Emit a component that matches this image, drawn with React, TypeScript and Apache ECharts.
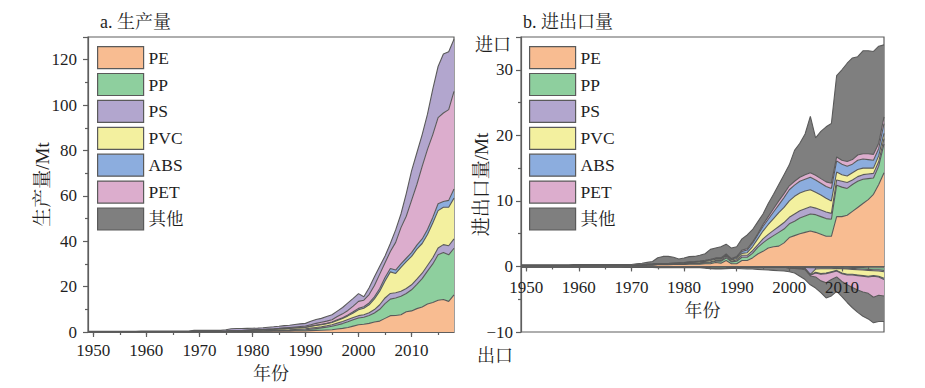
import React, { useEffect, useRef } from 'react';
import * as echarts from 'echarts';

// ---------- categories ----------
const YEARS = Array.from({ length: 70 }, (_, i) => String(1949 + i)); // 1949..2018
const NAMES = ['PE', 'PP', 'PS', 'PVC', 'ABS', 'PET', '其他'];
const COLORS = ['#f8bc91', '#8ecf9e', '#b2a6ce', '#f3f09f', '#8cadde', '#dcadcd', '#7f7f7f'];
const PROD_OTHER_FILL = '#b2a6ce';

// ---------- a. production (Mt) ----------
const P_PE = [
  0.1, 0.1, 0.1, 0.1, 0.1, 0.1, 0.1, 0.1, 0.1, 0.1,
  0.1, 0.1, 0.1, 0.1, 0.1, 0.1, 0.1, 0.1, 0.1, 0.1,
  0.15, 0.15, 0.15, 0.15, 0.15, 0.15, 0.15, 0.15, 0.15, 0.15,
  0.2, 0.25, 0.3, 0.3, 0.35, 0.4, 0.4, 0.4, 0.4, 0.5,
  0.5, 0.5, 0.6, 0.7, 0.8, 0.9, 1.0, 1.3, 1.6, 2.0,
  2.6, 3.2, 3.4, 3.8, 4.4, 4.8, 6.0, 7.2, 7.3, 7.6,
  8.9, 9.3, 10.3, 11.0, 12.3, 13.0, 14.0, 14.3, 13.5, 16.4,
];
const P_PP = [
  0, 0, 0, 0, 0, 0, 0, 0, 0, 0,
  0, 0, 0, 0, 0, 0, 0, 0, 0, 0,
  0, 0, 0, 0, 0, 0, 0, 0.03, 0.05, 0.05,
  0.07, 0.1, 0.1, 0.12, 0.15, 0.18, 0.2, 0.25, 0.3, 0.3,
  0.4, 0.5, 0.6, 0.8, 1.0, 1.2, 1.5, 1.8, 2.1, 2.5,
  2.8, 3.0, 3.1, 3.5, 4.0, 5.2, 6.5, 7.3, 7.7, 8.2,
  8.1, 9.3, 10.7, 12.5, 14.5, 17.0, 20.0, 20.7, 20.5, 20.5,
];
const P_PS = [
  0, 0, 0, 0, 0, 0, 0, 0, 0, 0,
  0, 0, 0, 0, 0, 0, 0, 0, 0, 0,
  0, 0, 0, 0, 0, 0, 0, 0.03, 0.04, 0.05,
  0.06, 0.07, 0.08, 0.1, 0.12, 0.13, 0.15, 0.2, 0.25, 0.3,
  0.35, 0.4, 0.5, 0.5, 0.5, 0.6, 0.7, 0.8, 0.9, 1.0,
  1.0, 1.0, 1.1, 1.2, 1.5, 2.0, 2.5, 2.5, 2.3, 2.2,
  2.2, 2.2, 2.3, 2.4, 2.5, 2.7, 3.0, 3.5, 4.0, 4.1,
];
const P_PVC = [
  0.05, 0.05, 0.05, 0.05, 0.05, 0.05, 0.05, 0.05, 0.05, 0.05,
  0.1, 0.1, 0.1, 0.1, 0.1, 0.1, 0.1, 0.1, 0.1, 0.1,
  0.2, 0.2, 0.2, 0.2, 0.2, 0.2, 0.25, 0.3, 0.3, 0.35,
  0.4, 0.4, 0.45, 0.45, 0.5, 0.5, 0.55, 0.6, 0.65, 0.65,
  0.6, 0.6, 0.8, 0.9, 0.9, 0.9, 1.0, 1.2, 1.4, 1.6,
  2.0, 2.6, 2.9, 3.5, 4.7, 6.0, 7.5, 9.5, 8.5, 10.5,
  11.8, 12.5, 13.2, 13.1, 13.7, 15.3, 16.5, 16.5, 17.0, 18.0,
];
const P_ABS = [
  0, 0, 0, 0, 0, 0, 0, 0, 0, 0,
  0, 0, 0, 0, 0, 0, 0, 0, 0, 0,
  0, 0, 0, 0, 0, 0, 0, 0, 0, 0,
  0, 0.02, 0.02, 0.02, 0.02, 0.02, 0.05, 0.05, 0.05, 0.05,
  0.1, 0.1, 0.1, 0.1, 0.2, 0.2, 0.2, 0.3, 0.3, 0.4,
  0.5, 0.6, 0.6, 0.8, 0.9, 1.2, 1.5, 1.5, 1.5, 1.5,
  1.5, 1.7, 1.8, 2.0, 2.2, 2.5, 3.0, 2.5, 3.0, 4.0,
];
const P_PET = [
  0, 0, 0, 0, 0, 0, 0, 0, 0, 0,
  0, 0, 0, 0, 0, 0, 0, 0, 0, 0,
  0, 0, 0, 0, 0, 0, 0, 0.02, 0.03, 0.05,
  0.07, 0.1, 0.12, 0.15, 0.18, 0.2, 0.25, 0.3, 0.35, 0.4,
  0.45, 0.5, 0.6, 0.8, 0.9, 1.0, 1.0, 1.4, 1.7, 2.0,
  2.5, 3.1, 2.9, 3.7, 5.0, 6.3, 6.5, 7.5, 12.2, 16.0,
  18.5, 23.0, 26.7, 32.0, 35.3, 36.5, 38.0, 39.0, 40.0, 43.0,
];
const P_OTH = [
  0.15, 0.15, 0.15, 0.15, 0.15, 0.15, 0.15, 0.15, 0.15, 0.15,
  0.25, 0.25, 0.25, 0.25, 0.25, 0.25, 0.25, 0.25, 0.25, 0.25,
  0.35, 0.35, 0.35, 0.35, 0.35, 0.35, 0.6, 0.9, 1.0, 0.9,
  0.8, 0.7, 0.65, 0.7, 0.8, 0.85, 0.9, 1.0, 1.0, 1.1,
  1.2, 1.2, 1.5, 1.7, 1.7, 2.0, 2.2, 2.4, 2.8, 3.3,
  3.4, 3.4, 1.5, 3.0, 3.8, 3.5, 3.0, 3.5, 5.5, 6.0,
  10.0, 13.0, 14.0, 14.0, 15.5, 20.0, 22.5, 26.0, 25.5, 23.0,
];

// ---------- b. imports (Mt, positive) ----------
const I_PE = [
  0.1, 0.1, 0.1, 0.1, 0.1, 0.1, 0.1, 0.1, 0.1, 0.1,
  0.1, 0.1, 0.1, 0.1, 0.1, 0.1, 0.1, 0.1, 0.1, 0.1,
  0.1, 0.1, 0.15, 0.15, 0.2, 0.2, 0.25, 0.25, 0.25, 0.3,
  0.3, 0.3, 0.35, 0.35, 0.35, 0.4, 0.4, 0.6, 0.5, 0.9,
  0.4, 0.4, 0.9, 0.9, 1.3, 1.9, 2.3, 2.8, 3.0, 3.1,
  3.6, 4.4, 4.7, 5.0, 5.2, 5.4, 5.2, 4.9, 4.6, 4.6,
  7.6, 7.6, 7.8, 8.4, 9.0, 9.6, 10.2, 11.0, 12.5, 14.3,
];
const I_PP = [
  0, 0, 0, 0, 0, 0, 0, 0, 0, 0,
  0, 0, 0, 0, 0, 0, 0, 0, 0, 0,
  0, 0, 0, 0, 0.02, 0.03, 0.05, 0.05, 0.05, 0.05,
  0.06, 0.08, 0.1, 0.1, 0.12, 0.15, 0.2, 0.2, 0.3, 0.4,
  0.3, 0.4, 0.5, 0.5, 0.7, 1.0, 1.3, 1.4, 1.7, 2.1,
  2.1, 2.1, 2.2, 2.4, 2.5, 2.6, 2.7, 2.7, 2.7, 2.6,
  4.8, 4.5, 4.1, 4.1, 4.0, 3.7, 3.2, 2.5, 2.8, 4.4,
];
const I_PS = [
  0, 0, 0, 0, 0, 0, 0, 0, 0, 0,
  0, 0, 0, 0, 0, 0, 0, 0, 0, 0,
  0, 0, 0, 0, 0.02, 0.02, 0.03, 0.03, 0.03, 0.04,
  0.04, 0.05, 0.05, 0.06, 0.07, 0.08, 0.1, 0.1, 0.1, 0.2,
  0.1, 0.2, 0.3, 0.3, 0.4, 0.4, 0.6, 0.7, 0.8, 0.9,
  1.0, 1.0, 1.1, 1.1, 1.1, 1.1, 1.0, 1.0, 1.0, 0.9,
  0.8, 0.9, 0.9, 0.7, 0.7, 0.7, 0.7, 0.7, 0.7, 0.8,
];
const I_PVC = [
  0.05, 0.05, 0.05, 0.05, 0.05, 0.05, 0.05, 0.05, 0.05, 0.05,
  0.05, 0.05, 0.05, 0.05, 0.05, 0.05, 0.05, 0.05, 0.05, 0.05,
  0.05, 0.05, 0.05, 0.08, 0.08, 0.1, 0.1, 0.1, 0.1, 0.1,
  0.1, 0.1, 0.12, 0.12, 0.15, 0.15, 0.2, 0.2, 0.2, 0.2,
  0.2, 0.2, 0.3, 0.4, 0.6, 0.9, 1.2, 1.5, 1.8, 2.1,
  2.3, 2.5, 2.7, 2.7, 2.7, 2.6, 2.4, 2.3, 2.1, 1.9,
  1.2, 1.0, 1.0, 1.1, 1.1, 1.0, 0.9, 0.8, 0.9, 0.8,
];
const I_ABS = [
  0, 0, 0, 0, 0, 0, 0, 0, 0, 0,
  0, 0, 0, 0, 0, 0, 0, 0, 0, 0,
  0, 0, 0, 0, 0, 0, 0, 0, 0, 0,
  0.02, 0.03, 0.04, 0.05, 0.06, 0.08, 0.1, 0.1, 0.1, 0.1,
  0.1, 0.2, 0.3, 0.4, 0.5, 0.6, 0.7, 0.8, 1.0, 1.2,
  1.5, 1.7, 1.7, 1.8, 1.8, 1.9, 1.9, 1.8, 1.8, 1.9,
  1.7, 1.6, 1.5, 1.3, 1.4, 1.4, 1.3, 1.2, 1.1, 1.5,
];
const I_PET = [
  0, 0, 0, 0, 0, 0, 0, 0, 0, 0,
  0, 0, 0, 0, 0, 0, 0, 0, 0, 0,
  0, 0, 0, 0, 0, 0, 0, 0, 0, 0,
  0.02, 0.03, 0.04, 0.05, 0.06, 0.08, 0.1, 0.1, 0.1, 0.1,
  0.1, 0.1, 0.2, 0.2, 0.2, 0.2, 0.3, 0.4, 0.5, 0.6,
  0.6, 0.6, 0.6, 0.6, 0.7, 0.7, 0.7, 0.7, 0.7, 0.8,
  0.6, 0.6, 0.7, 0.7, 0.8, 0.8, 0.9, 0.9, 0.8, 1.0,
];
const I_OTH = [
  0.1, 0.1, 0.1, 0.1, 0.1, 0.1, 0.1, 0.1, 0.1, 0.1,
  0.15, 0.15, 0.15, 0.15, 0.15, 0.15, 0.15, 0.15, 0.15, 0.15,
  0.15, 0.15, 0.2, 0.25, 0.3, 0.4, 0.9, 1.1, 1.1, 0.9,
  0.6, 0.7, 0.8, 0.8, 0.9, 1.0, 1.5, 1.5, 1.7, 1.5,
  1.6, 1.5, 1.7, 2.1, 1.9, 1.8, 1.6, 2.0, 2.2, 2.5,
  2.9, 3.2, 4.7, 5.2, 6.2, 8.6, 5.7, 7.2, 8.4, 9.1,
  12.4, 13.8, 15.0, 15.5, 15.0, 15.7, 15.7, 15.7, 14.8, 11.0,
];

// ---------- b. exports (Mt, negative) ----------
const E_PE = [
  -0.05, -0.05, -0.05, -0.05, -0.05, -0.05, -0.05, -0.05, -0.05, -0.05,
  -0.05, -0.05, -0.05, -0.05, -0.05, -0.05, -0.05, -0.05, -0.05, -0.05,
  -0.05, -0.05, -0.05, -0.05, -0.05, -0.05, -0.05, -0.05, -0.05, -0.05,
  -0.05, -0.05, -0.05, -0.05, -0.05, -0.05, -0.05, -0.05, -0.05, -0.05,
  -0.05, -0.05, -0.05, -0.05, -0.05, -0.05, -0.05, -0.05, -0.05, -0.05,
  -0.05, -0.05, -0.05, -0.05, -0.1, -0.1, -0.1, -0.1, -0.1, -0.1,
  -0.1, -0.1, -0.1, -0.15, -0.15, -0.15, -0.2, -0.2, -0.2, -0.2,
];
const E_PP = [
  0, 0, 0, 0, 0, 0, 0, 0, 0, 0,
  0, 0, 0, 0, 0, 0, 0, 0, 0, 0,
  0, 0, 0, 0, 0, 0, -0.05, -0.05, -0.05, -0.05,
  -0.05, -0.05, -0.05, -0.05, -0.05, -0.1, -0.2, -0.25, -0.25, -0.2,
  -0.1, -0.05, -0.05, -0.05, -0.05, -0.05, -0.05, -0.05, -0.05, -0.05,
  -0.05, -0.05, -0.05, -0.05, -0.05, -0.1, -0.1, -0.1, -0.1, -0.1,
  -0.1, -0.15, -0.15, -0.15, -0.2, -0.25, -0.25, -0.3, -0.3, -0.4,
];
const E_PS = [
  0, 0, 0, 0, 0, 0, 0, 0, 0, 0,
  0, 0, 0, 0, 0, 0, 0, 0, 0, 0,
  0, 0, 0, 0, 0, 0, 0, 0, 0, 0,
  0, 0, 0, 0, 0, 0, 0, 0, 0, 0,
  0, 0, 0, 0, 0, 0, 0, 0, 0, 0,
  0, -0.05, -0.05, -0.1, -0.15, -1.0, -0.2, -0.15, -0.15, -0.15,
  -0.1, -0.1, -0.15, -0.15, -0.15, -0.15, -0.15, -0.15, -0.2, -0.2,
];
const E_PVC = [
  0, 0, 0, 0, 0, 0, 0, 0, 0, 0,
  0, 0, 0, 0, 0, 0, 0, 0, 0, 0,
  0, 0, 0, 0, 0, 0, 0, 0, 0, 0,
  0, 0, 0, 0, 0, 0, 0, 0, 0, 0,
  0, 0, 0, 0, 0, 0, 0, 0, 0, 0,
  0, -0.05, -0.05, -0.05, -0.05, -0.1, -0.5, -0.75, -0.65, -0.45,
  -0.3, -0.65, -0.8, -0.75, -0.8, -0.85, -0.9, -0.75, -0.8, -1.0,
];
const E_ABS = [
  0, 0, 0, 0, 0, 0, 0, 0, 0, 0,
  0, 0, 0, 0, 0, 0, 0, 0, 0, 0,
  0, 0, 0, 0, 0, 0, 0, 0, 0, 0,
  0, 0, 0, 0, 0, 0, 0, 0, 0, 0,
  0, 0, 0, 0, 0, 0, 0, 0, 0, 0,
  0, -0.02, -0.05, -0.05, -0.05, -0.05, -0.1, -0.1, -0.1, -0.1,
  -0.1, -0.1, -0.1, -0.1, -0.1, -0.1, -0.1, -0.1, -0.1, -0.2,
];
const E_PET = [
  0, 0, 0, 0, 0, 0, 0, 0, 0, 0,
  0, 0, 0, 0, 0, 0, 0, 0, 0, 0,
  0, 0, 0, 0, 0, 0, 0, 0, 0, 0,
  0, 0, 0, 0, 0, 0, 0, 0, 0, 0,
  0, 0, 0, 0, 0, 0, 0, 0, 0, 0,
  0, -0.03, -0.05, -0.1, -0.1, -0.1, -0.6, -1.0, -1.4, -1.1,
  -0.9, -1.2, -1.5, -1.9, -2.2, -2.4, -2.5, -3.2, -2.8, -2.5,
];
const E_OTH = [
  -0.05, -0.05, -0.05, -0.05, -0.05, -0.05, -0.05, -0.05, -0.05, -0.05,
  -0.05, -0.05, -0.05, -0.05, -0.05, -0.05, -0.05, -0.05, -0.05, -0.05,
  -0.1, -0.1, -0.1, -0.1, -0.1, -0.1, -0.1, -0.1, -0.1, -0.1,
  -0.1, -0.1, -0.1, -0.1, -0.1, -0.1, -0.1, -0.1, -0.1, -0.1,
  -0.15, -0.2, -0.25, -0.3, -0.3, -0.35, -0.4, -0.45, -0.5, -0.55,
  -0.6, -0.55, -0.7, -1.1, -1.5, -1.35, -1.7, -1.8, -2.3, -2.5,
  -2.2, -2.3, -2.7, -3.1, -3.4, -3.7, -3.9, -3.9, -4.0, -3.9,
];

const PROD = [P_PE, P_PP, P_PS, P_PVC, P_ABS, P_PET, P_OTH];
const IMP = [I_PE, I_PP, I_PS, I_PVC, I_ABS, I_PET, I_OTH];
const EXP = [E_PE, E_PP, E_PS, E_PVC, E_ABS, E_PET, E_OTH];

const FONT = "'Liberation Serif', 'Noto Serif CJK SC', 'Noto Sans CJK SC', serif";
const TXT = '#1f1f1f';
const AX = '#5e5e5e';
const OUTLINE = '#5a5a5a';

// layout of the two plot areas
const G_TOP = 37;
const G_H = 295;
const R_MIN = -10;
const R_MAX = 35;

function area(name: string, data: number[], color: string, stack: string, xi: number, yi: number) {
  return {
    type: 'line',
    name,
    data,
    stack,
    xAxisIndex: xi,
    yAxisIndex: yi,
    symbol: 'none',
    showSymbol: false,
    silent: true,
    lineStyle: { color: OUTLINE, width: 1.1 },
    areaStyle: { color, opacity: 1 },
    itemStyle: { color },
    emphasis: { disabled: true },
  };
}

const major = (_i: number, v: string) => Number(v) % 10 === 0;
const minor = (_i: number, v: string) => Number(v) % 5 === 0;

function xAxes(grid: number, offset: number, nameGap: number, labelMargin: number) {
  return [
    {
      type: 'category', gridIndex: grid, data: YEARS, boundaryGap: false, position: 'bottom', offset, z: 10,
      axisLine: { show: true, onZero: false, lineStyle: { color: AX, width: 1.2 } },
      axisTick: { show: true, interval: major, length: 5, lineStyle: { color: AX, width: 1.2 } },
      axisLabel: { interval: major, fontSize: 17, color: TXT, fontFamily: FONT, margin: labelMargin },
      splitLine: { show: false },
      name: '年份', nameLocation: 'middle', nameGap, nameMoveOverlap: false,
      nameTextStyle: { fontSize: 18, color: TXT, fontFamily: FONT },
    },
    {
      type: 'category', gridIndex: grid, data: YEARS, boundaryGap: false, position: 'bottom', offset, z: 10,
      axisLine: { show: false, onZero: false },
      axisTick: { show: true, interval: minor, length: 3, lineStyle: { color: AX, width: 1.2 } },
      axisLabel: { show: false },
      splitLine: { show: false },
    },
  ];
}

export default function App() {
  const ref = useRef<HTMLDivElement>(null);
  useEffect(() => {
    if (!ref.current) return;
    const chart = echarts.init(ref.current, undefined, { renderer: 'svg' });

    const series: any[] = [];
    NAMES.forEach((n, k) => {
      series.push(area(n, PROD[k], k === 6 ? PROD_OTHER_FILL : COLORS[k], 'prod', 0, 0));
    });
    NAMES.forEach((n, k) => {
      series.push(area(n, IMP[k], COLORS[k], 'imp', 2, 1));
    });
    NAMES.forEach((n, k) => {
      series.push(area(n, EXP[k], COLORS[k], 'exp', 2, 1));
    });

    // the right panel's year axis sits on its zero line
    const zeroOffset = -(G_H * (0 - R_MIN)) / (R_MAX - R_MIN);

    const legendBase = (left: number) => ({
      orient: 'vertical',
      left,
      top: 46,
      padding: 0,
      itemWidth: 46,
      itemHeight: 22,
      itemGap: 3.7,
      icon: 'rect',
      selectedMode: false,
      itemStyle: { borderColor: OUTLINE, borderWidth: 1.2 },
      textStyle: { fontSize: 17.5, color: TXT, fontFamily: FONT },
      data: NAMES.map((n, k) => ({ name: n, itemStyle: { color: COLORS[k] } })),
    });

    const option: any = {
      animation: false,
      backgroundColor: '#ffffff',
      grid: [
        { left: 88, top: G_TOP, width: 366, height: G_H, show: true, borderColor: AX, borderWidth: 1.2, backgroundColor: 'transparent', containLabel: false, outerBoundsMode: 'none' },
        { left: 521, top: G_TOP, width: 363, height: G_H, show: true, borderColor: AX, borderWidth: 1.2, backgroundColor: 'transparent', containLabel: false, outerBoundsMode: 'none' },
      ],
      xAxis: [...xAxes(0, 0, 33, 10), ...xAxes(1, zeroOffset, 36, 13)],
      yAxis: [
        {
          type: 'value', gridIndex: 0, min: 0, max: 130, interval: 20,
          axisLine: { show: true, onZero: false, lineStyle: { color: AX, width: 1.2 } },
          axisTick: { show: true, length: 5, lineStyle: { color: AX, width: 1.2 } },
          minorTick: { show: true, splitNumber: 2, length: 3, lineStyle: { color: AX, width: 1.2 } },
          splitLine: { show: false },
          axisLabel: { showMaxLabel: false, fontSize: 17, color: TXT, fontFamily: FONT, margin: 11 },
          name: '生产量/Mt', nameLocation: 'middle', nameGap: 36, nameRotate: 90, nameMoveOverlap: false,
          nameTextStyle: { fontSize: 19, color: TXT, fontFamily: FONT },
        },
        {
          type: 'value', gridIndex: 1, min: R_MIN, max: R_MAX, interval: 10,
          axisLine: { show: true, onZero: false, lineStyle: { color: AX, width: 1.2 } },
          axisTick: { show: true, length: 5, lineStyle: { color: AX, width: 1.2 } },
          minorTick: { show: true, splitNumber: 2, length: 3, lineStyle: { color: AX, width: 1.2 } },
          splitLine: { show: false },
          axisLabel: {
            showMaxLabel: false, fontSize: 17, color: TXT, fontFamily: FONT, margin: 8,
            formatter: (v: number) => (v < 0 ? '\u2212' + Math.abs(v) : String(v)),
          },
          name: '进出口量/Mt', nameLocation: 'middle', nameGap: 30, nameRotate: 90, nameMoveOverlap: false,
          nameTextStyle: { fontSize: 19, color: TXT, fontFamily: FONT },
        },
      ],
      legend: [legendBase(97), legendBase(529)],
      graphic: [
        { type: 'text', left: 100, top: 13, style: { text: 'a. 生产量', fontSize: 18, fill: TXT, fontFamily: FONT } },
        { type: 'text', left: 523, top: 13, style: { text: 'b. 进出口量', fontSize: 18, fill: TXT, fontFamily: FONT } },
        { type: 'text', left: 475, top: 36, style: { text: '进口', fontSize: 18, fill: TXT, fontFamily: FONT } },
        { type: 'text', left: 477, top: 347, style: { text: '出口', fontSize: 18, fill: TXT, fontFamily: FONT } },
      ],
      series,
    };

    chart.setOption(option);
    return () => chart.dispose();
  }, []);

  return <div ref={ref} style={{ position: 'absolute', left: 0, top: 0, width: 925, height: 388 }} />;
}
